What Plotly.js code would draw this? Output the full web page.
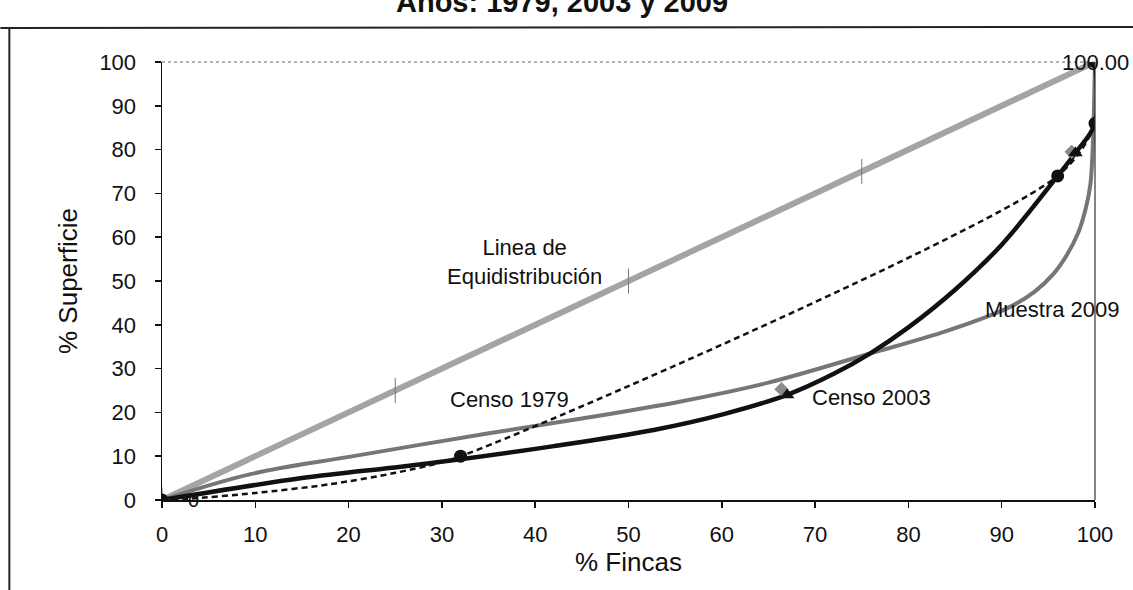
<!DOCTYPE html>
<html>
<head>
<meta charset="utf-8">
<script src="https://cdn.plot.ly/plotly-3.0.1.min.js"></script>
<style>html,body{margin:0;padding:0;background:#fff;}#chart{width:1133px;height:590px;}</style>
</head>
<body>
<div id="chart"></div>
<script>
// ---- data ----
var titleText = "Años: 1979, 2003 y 2009";
var xTicks = [0, 10, 20, 30, 40, 50, 60, 70, 80, 90, 100];
var yTicks = [0, 10, 20, 30, 40, 50, 60, 70, 80, 90, 100];

var equiX = [0, 25, 50, 75, 100];
var equiY = [0, 25, 50, 75, 100];

var c1979X = [0, 3, 10, 18, 25, 32, 96, 100, 100];
var c1979Y = [0, 0.3, 1.6, 3.6, 6.2, 10, 74, 86, 100];
var c1979MarkX = [0, 32, 96, 100, 100];
var c1979MarkY = [0, 10, 74, 86, 100];

var c2003X = [0, 15, 25.6, 32, 42, 52.7, 60, 67, 72, 76, 80, 85, 90, 96, 98, 100, 100];
var c2003Y = [0, 5, 7.6, 9.3, 12.3, 16, 19.5, 24, 28.8, 33.6, 39.4, 48, 58.3, 74, 79.5, 86, 100];
var c2003MarkX = [0, 67, 97.9];
var c2003MarkY = [0, 24, 79.2];

var m2009X = [0, 9.5, 20.2, 35.2, 45, 55.6, 65, 76, 83.4, 88, 91, 93.5, 95.5, 97, 98.2, 99, 99.5, 99.75, 99.9, 100];
var m2009Y = [0, 5.9, 9.9, 15.3, 18.6, 22.5, 26.8, 33.5, 38.1, 41.5, 44.2, 47.5, 51.5, 56, 61, 66.5, 72, 80, 90, 100];
var m2009MarkX = [0, 66.4, 97.5, 100];
var m2009MarkY = [0, 25.3, 79.5, 100];

var lbl = {
  equi: "Linea de<br>Equidistribución",
  c1979: "Censo 1979",
  c2003: "Censo 2003",
  m2009: "Muestra 2009",
  zero: "0",
  top: "100.00"
};

// ---- styles ----
var FONT = "Liberation Sans, Arial, sans-serif";
var BLACK = "#111111";

var traces = [
  {x: equiX, y: equiY, mode: "lines+markers", type: "scatter",
   line: {color: "#a4a4a4", width: 6},
   marker: {symbol: "line-ns-open", size: 18, color: "#777", line: {width: 1, color: "#777"}},
   hoverinfo: "skip"},
  {x: m2009X, y: m2009Y, mode: "lines", type: "scatter",
   line: {color: "#767676", width: 4, shape: "spline", smoothing: 1},
   hoverinfo: "skip"},
  {x: c2003X, y: c2003Y, mode: "lines", type: "scatter",
   line: {color: BLACK, width: 4.5, shape: "spline", smoothing: 1},
   hoverinfo: "skip"},
  {x: c1979X, y: c1979Y, mode: "lines", type: "scatter",
   line: {color: BLACK, width: 2.5, dash: "6px,4px", shape: "spline", smoothing: 0.8},
   hoverinfo: "skip"},
  {x: m2009MarkX, y: m2009MarkY, mode: "markers", type: "scatter",
   marker: {symbol: "diamond", size: 11, color: "#8a8a8a"}, hoverinfo: "skip"},
  {x: c2003MarkX, y: c2003MarkY, mode: "markers", type: "scatter",
   marker: {symbol: "triangle-up", size: 13, color: BLACK}, hoverinfo: "skip"},
  {x: c1979MarkX, y: c1979MarkY, mode: "markers", type: "scatter",
   marker: {symbol: "circle", size: 13, color: BLACK}, hoverinfo: "skip"}
];

function px2x(px) { return (px - 161.7) / 933.3; }
function py2y(py) { return (500 - py) / 438; }

var annFont = {family: FONT, size: 22, color: BLACK};
var layout = {
  width: 1133, height: 590,
  margin: {l: 162, r: 38, t: 62, b: 90, pad: 0},
  paper_bgcolor: "#ffffff", plot_bgcolor: "#ffffff",
  showlegend: false,
  font: {family: FONT, color: BLACK},
  xaxis: {
    range: [0, 100], tickvals: xTicks, ticktext: xTicks.map(String),
    showgrid: false, zeroline: false, showline: true, linecolor: BLACK, linewidth: 1.5,
    ticks: "outside", ticklen: 6, tickcolor: BLACK, tickwidth: 1.5,
    tickfont: {family: FONT, size: 22, color: BLACK}, ticklabelstandoff: 8,
    title: {text: "% Fincas", font: {family: FONT, size: 26, color: BLACK}, standoff: 0}
  },
  yaxis: {
    range: [0, 100], tickvals: yTicks, ticktext: yTicks.map(String),
    showgrid: false, zeroline: false, showline: true, linecolor: BLACK, linewidth: 1.5,
    ticks: "outside", ticklen: 6, tickcolor: BLACK, tickwidth: 1.5,
    tickfont: {family: FONT, size: 22, color: BLACK}, ticklabelstandoff: 14,
    title: {text: "% Superficie", font: {family: FONT, size: 26, color: BLACK}, standoff: 14}
  },
  shapes: [
    {type: "line", xref: "paper", yref: "paper", x0: 0, x1: 1, y0: 1, y1: 1,
     line: {color: "#666", width: 1, dash: "dot"}},
    {type: "line", xref: "paper", yref: "paper", x0: 1, x1: 1, y0: 0, y1: 1,
     line: {color: "#333", width: 1.2}},
    {type: "line", xref: "paper", yref: "paper", x0: px2x(0), x1: px2x(1133), y0: py2y(28), y1: py2y(27),
     line: {color: "#222", width: 2}},
    {type: "line", xref: "paper", yref: "paper", x0: px2x(9), x1: px2x(9), y0: py2y(28), y1: py2y(590),
     line: {color: "#222", width: 2}}
  ],
  annotations: [
    {xref: "paper", yref: "paper", x: px2x(562), y: py2y(20), xanchor: "center", yanchor: "bottom",
     text: "<b>" + titleText + "</b>", showarrow: false, font: {family: FONT, size: 29, color: BLACK}},
    {xref: "x", yref: "y", x: 38.9, y: 54.3, text: lbl.equi, showarrow: false,
     xanchor: "center", yanchor: "middle", font: annFont},
    {xref: "x", yref: "y", x: 30.6, y: 23, text: lbl.c1979, showarrow: false,
     xanchor: "left", yanchor: "middle", font: annFont},
    {xref: "x", yref: "y", x: 69.5, y: 23.5, text: lbl.c2003, showarrow: false,
     xanchor: "left", yanchor: "middle", font: annFont},
    {xref: "x", yref: "y", x: 88.0, y: 43.4, text: lbl.m2009, showarrow: false,
     xanchor: "left", yanchor: "middle", font: annFont},
    {xref: "x", yref: "y", x: 3.4, y: 0, text: lbl.zero, showarrow: false,
     xanchor: "center", yanchor: "middle", font: {family: FONT, size: 20, color: BLACK}},
    {xref: "x", yref: "y", x: 100, y: 100, text: lbl.top, showarrow: false,
     xanchor: "center", yanchor: "middle", font: annFont}
  ]
};

Plotly.newPlot("chart", traces, layout, {displayModeBar: false, staticPlot: true});
</script>
</body>
</html>
